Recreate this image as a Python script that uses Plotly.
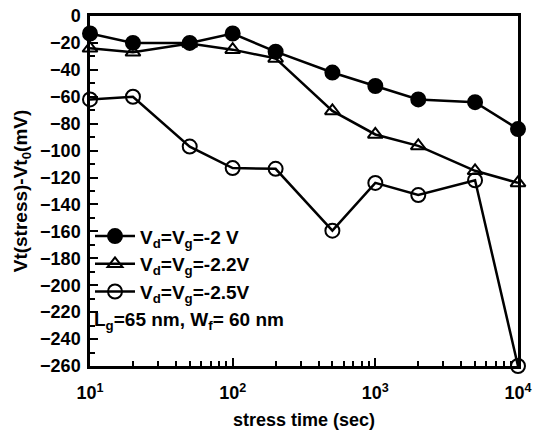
import plotly.graph_objects as go

times = [10, 20, 50, 100, 200, 500, 1000, 2000, 5000, 10000]
v2_0 = [-13, -20, -20, -13, -26.5, -42, -52, -62, -64, -84]
v2_2 = [-24, -27, -20.5, -25, -31.5, -70.5, -88, -96.5, -115, -124]
v2_5 = [-62, -60, -97, -113, -113.5, -159.5, -124, -133, -122, -260]

x_tickvals = [10, 100, 1000, 10000]
x_ticktext = ["10<sup>1</sup>", "10<sup>2</sup>", "10<sup>3</sup>", "10<sup>4</sup>"]
x_minor = [20, 30, 40, 50, 60, 70, 80, 90, 200, 300, 400, 500, 600, 700, 800, 900,
           2000, 3000, 4000, 5000, 6000, 7000, 8000, 9000]

names = ["V<sub>d</sub>=V<sub>g</sub>=-2 V",
         "V<sub>d</sub>=V<sub>g</sub>=-2.2V",
         "V<sub>d</sub>=V<sub>g</sub>=-2.5V"]
note = "L<sub>g</sub>=65 nm, W<sub>f</sub>= 60 nm"

FONT = "Liberation Sans"
fig = go.Figure()
styles = [
    dict(symbol="circle", color="black", line=dict(color="black", width=2)),
    dict(symbol="triangle-up-open", color="black", line=dict(color="black", width=2)),
    dict(symbol="circle-open", color="black", line=dict(color="black", width=2)),
]
for y, nm, st in zip([v2_0, v2_2, v2_5], names, styles):
    fig.add_trace(go.Scatter(
        x=times, y=y, name=nm, mode="lines+markers",
        line=dict(color="black", width=2.5),
        marker=dict(size=14 if st["symbol"] != "triangle-up-open" else 13, **st),
        cliponaxis=False,
    ))

fig.add_annotation(text=note, xref="paper", yref="paper", x=0.005, y=0.128,
                   xanchor="left", yanchor="middle", showarrow=False,
                   font=dict(family=FONT, size=19, color="black", weight="bold"))

fig.update_layout(
    width=537, height=432,
    margin=dict(l=90, r=19, t=16, b=66),
    paper_bgcolor="white", plot_bgcolor="white",
    showlegend=True,
    legend=dict(x=0.0, y=0.425, xanchor="left", yanchor="top",
                bgcolor="rgba(0,0,0,0)", tracegroupgap=0, itemwidth=40,
                font=dict(family=FONT, size=19, color="black", weight="bold")),
    font=dict(family=FONT, color="black"),
)
fig.update_xaxes(
    type="log", range=[1, 4], tickmode="array", tickvals=x_tickvals, ticktext=x_ticktext,
    automargin=False,
    ticks="inside", ticklen=8, tickwidth=2, tickcolor="black", ticklabelstandoff=9,
    minor=dict(tickmode="array", tickvals=x_minor, ticks="inside", ticklen=5,
               tickwidth=1.5, tickcolor="black", showgrid=False),
    showline=True, linewidth=2.5, linecolor="black", mirror=True, showgrid=False, zeroline=False,
    tickfont=dict(family=FONT, size=18, color="black", weight="bold"),
    title=dict(text="stress time (sec)", standoff=12,
               font=dict(family=FONT, size=18, color="black", weight="bold")),
)
fig.update_yaxes(
    range=[-260, 0], dtick=20, automargin=False,
    ticks="inside", ticklen=8, tickwidth=2, tickcolor="black", ticklabelstandoff=3,
    minor=dict(dtick=10, ticks="inside", ticklen=5, tickwidth=1.5, tickcolor="black", showgrid=False),
    showline=True, linewidth=2.5, linecolor="black", mirror=True, showgrid=False, zeroline=False,
    tickfont=dict(family=FONT, size=18, color="black", weight="bold"),
    title=dict(text="Vt(stress)-Vt<sub>0</sub>(mV)", standoff=8,
               font=dict(family=FONT, size=19, color="black", weight="bold")),
)
fig.write_html("out.html")
